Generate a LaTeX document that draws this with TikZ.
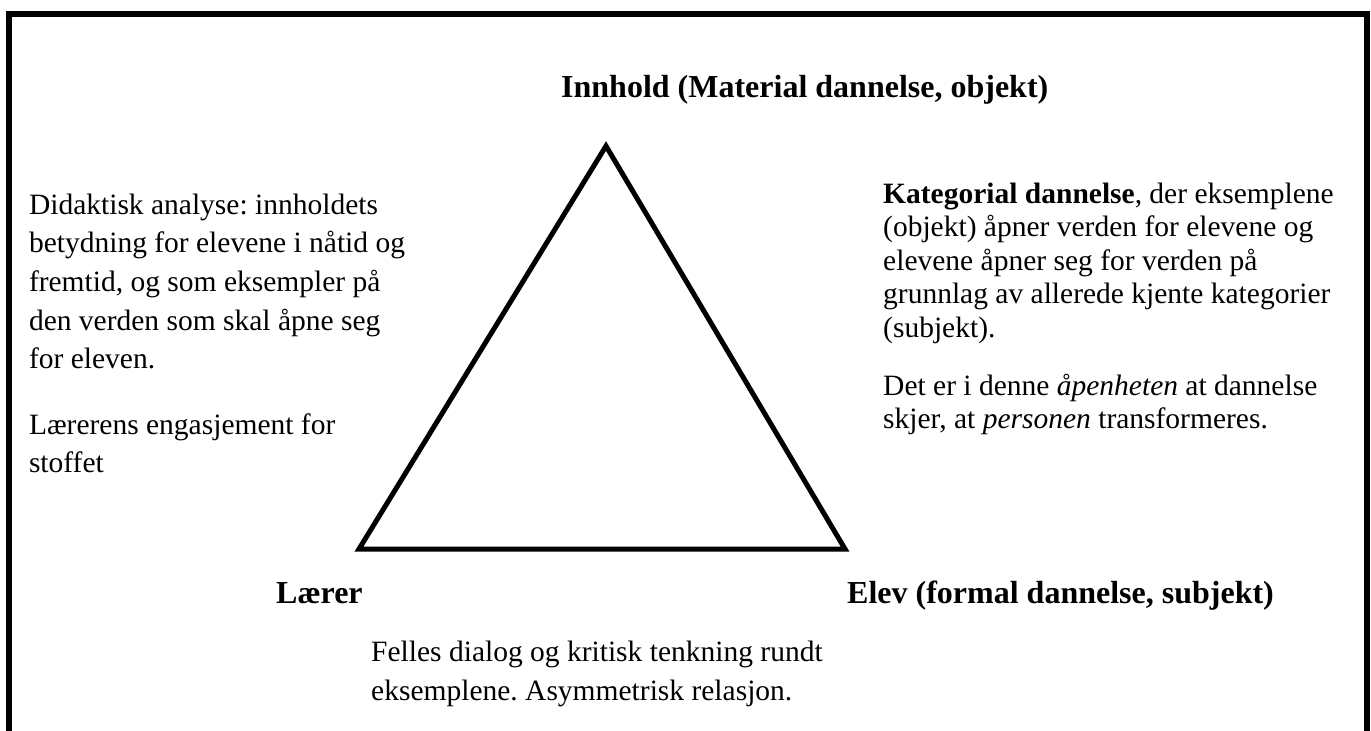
\documentclass[tikz,border=0pt]{standalone}
\usepackage{fontspec}
\setmainfont{Liberation Serif}
\frenchspacing
\tikzset{
  frame/.style={line width=6pt},
  tri/.style={line width=5pt, line join=miter},
  body/.style={inner sep=0pt, anchor=base west, align=left, font=\fontsize{29.5}{38.7}\selectfont},
  bodytight/.style={inner sep=0pt, anchor=base west, align=left, font=\fontsize{29.5}{33.5}\selectfont},
  label/.style={inner sep=0pt, anchor=base west, font=\fontsize{32}{38}\selectfont\bfseries},
}
\begin{document}
\begin{tikzpicture}[x=1pt,y=-1pt]
\useasboundingbox (0,0) rectangle (1371,731);
\clip (0,0) rectangle (1371,731);
\fill[white] (0,0) rectangle (1371,731);
\draw[frame] (9,14) rectangle (1367,780);
% triangle vertices
\coordinate (top) at (606,146);
\coordinate (left) at (359,549);
\coordinate (right) at (845,549);
\draw[tri] (top) -- (left) -- (right) -- cycle;
% labels
\node[label] (innhold) at (561,97.5) {Innhold (Material dannelse, objekt)};
\node[label] (laerer) at (276,603) {Lærer};
\node[label] (elev) at (847,603) {Elev (formal dannelse, subjekt)};
% left texts (anchor = baseline of last line)
\node[body] (didaktisk) at (28.8,368.8) {Didaktisk analyse: innholdets\\betydning for elevene i nåtid og\\fremtid, og som eksempler på\\den verden som skal åpne seg\\for eleven.};
\node[body] (engasjement) at (28.8,472.7) {Lærerens engasjement for\\stoffet};
% right texts
\node[bodytight] (kategorial) at (883,337) {\textbf{Kategorial dannelse}, der eksemplene\\(objekt) åpner verden for elevene og\\elevene åpner seg for verden på\\grunnlag av allerede kjente kategorier\\(subjekt).};
\node[bodytight] (aapenhet) at (883,428.5) {Det er i denne \textit{åpenheten} at dannelse\\skjer, at \textit{personen} transformeres.};
% bottom text
\node[body] (felles) at (371,700) {Felles dialog og kritisk tenkning rundt\\eksemplene. Asymmetrisk relasjon.};
\end{tikzpicture}
\end{document}
